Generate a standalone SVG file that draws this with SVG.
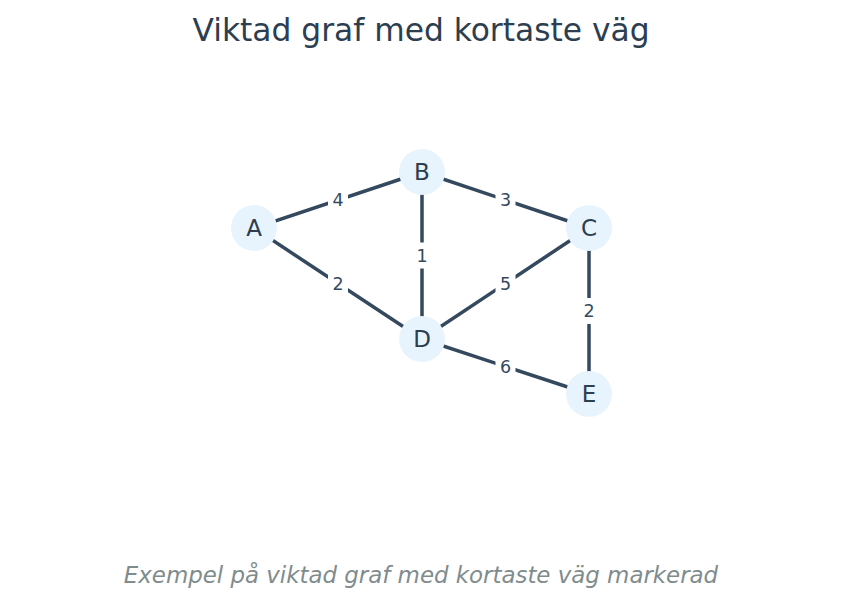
<svg xmlns="http://www.w3.org/2000/svg" width="843" height="607" viewBox="0 0 843 607">
<style>
.edge{stroke:#34495e;stroke-width:3.5;stroke-linecap:butt}
.node{fill:#e8f4fd}
.nl{font-family:"DejaVu Sans",sans-serif;font-size:23px;fill:#2c3e50;text-anchor:middle;dominant-baseline:central}
.lb{fill:#ffffff}
.el{font-family:"DejaVu Sans",sans-serif;font-size:17.5px;fill:#34495e;text-anchor:middle;dominant-baseline:central}
</style>
<rect width="843" height="607" fill="#ffffff"/>
<text x="421" y="41" font-family="DejaVu Sans, sans-serif" font-size="31.3" fill="#2c3e50" text-anchor="middle">Viktad graf med kortaste väg</text>
<g id="connectors">
<line class="edge" x1="254" y1="228" x2="422" y2="172"/>
<line class="edge" x1="254" y1="228" x2="422" y2="339"/>
<line class="edge" x1="422" y1="172" x2="589" y2="228"/>
<line class="edge" x1="422" y1="172" x2="422" y2="339"/>
<line class="edge" x1="589" y1="228" x2="422" y2="339"/>
<line class="edge" x1="589" y1="228" x2="589" y2="394"/>
<line class="edge" x1="422" y1="339" x2="589" y2="394"/>
<rect class="lb" x="328" y="187" width="20" height="26"/><text class="el" x="338" y="200">4</text>
<rect class="lb" x="328" y="270.5" width="20" height="26"/><text class="el" x="338" y="283.5">2</text>
<rect class="lb" x="495.5" y="187" width="20" height="26"/><text class="el" x="505.5" y="200">3</text>
<rect class="lb" x="412" y="242.5" width="20" height="26"/><text class="el" x="422" y="255.5">1</text>
<rect class="lb" x="495.5" y="270.5" width="20" height="26"/><text class="el" x="505.5" y="283.5">5</text>
<rect class="lb" x="579" y="298" width="20" height="26"/><text class="el" x="589" y="311">2</text>
<rect class="lb" x="495.5" y="353.5" width="20" height="26"/><text class="el" x="505.5" y="366.5">6</text>
</g>
<g id="node-A"><circle class="node" cx="254" cy="228" r="23"/><text class="nl" x="254" y="228">A</text></g>
<g id="node-B"><circle class="node" cx="422" cy="172" r="23"/><text class="nl" x="422" y="172">B</text></g>
<g id="node-C"><circle class="node" cx="589" cy="228" r="23"/><text class="nl" x="589" y="228">C</text></g>
<g id="node-D"><circle class="node" cx="422" cy="339" r="23"/><text class="nl" x="422" y="339">D</text></g>
<g id="node-E"><circle class="node" cx="589" cy="394" r="23"/><text class="nl" x="589" y="394">E</text></g>
<text x="421" y="583" font-family="DejaVu Sans, sans-serif" font-size="22.9" font-style="italic" fill="#7f8c8d" text-anchor="middle">Exempel på viktad graf med kortaste väg markerad</text>
</svg>
